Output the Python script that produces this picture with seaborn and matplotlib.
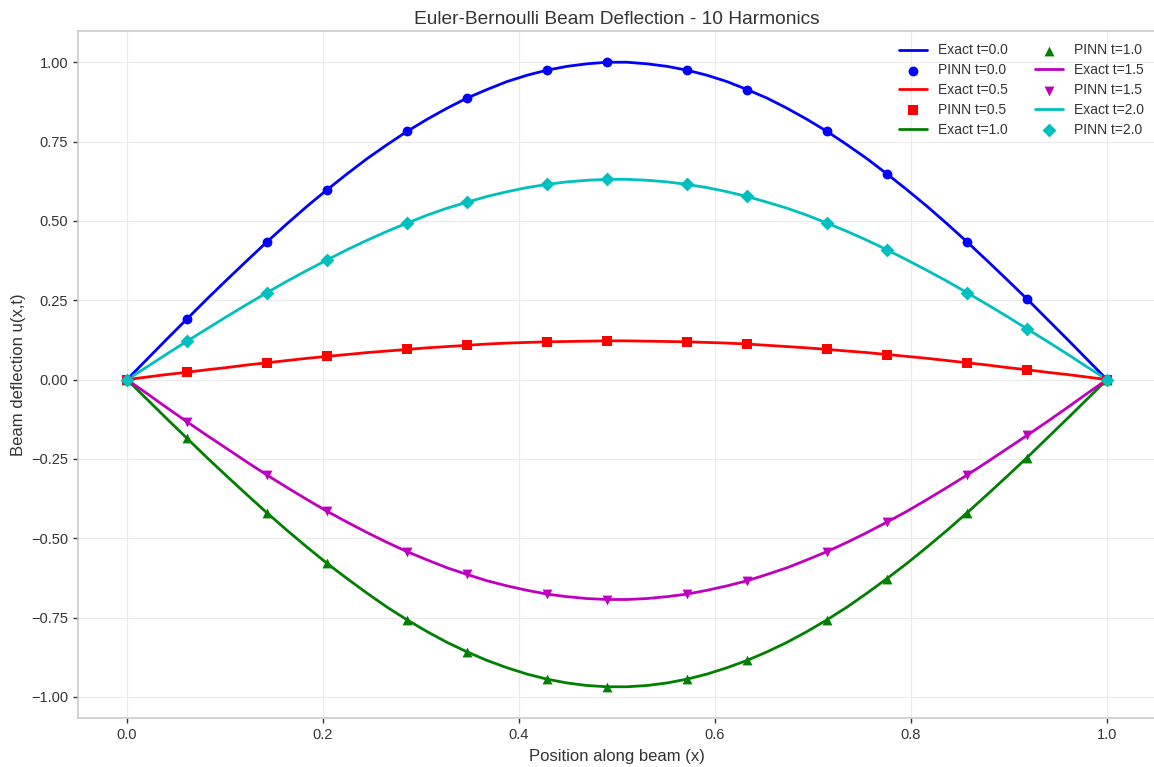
import numpy as np
import pandas as pd
import matplotlib
matplotlib.use("Agg")
import matplotlib.pyplot as plt
import seaborn as sns

# ---- data ----
times = ["0.0", "0.5", "1.0", "1.5", "2.0"]

x_exact = np.linspace(0.0, 1.0, 50)

exact_t00 = [0.000, 0.064, 0.128, 0.191, 0.254, 0.315, 0.375, 0.434, 0.491, 0.546,
             0.598, 0.648, 0.696, 0.740, 0.782, 0.820, 0.855, 0.887, 0.914, 0.939,
             0.959, 0.975, 0.987, 0.995, 1.000, 1.000, 0.995, 0.987, 0.975, 0.959,
             0.939, 0.914, 0.887, 0.855, 0.820, 0.782, 0.740, 0.696, 0.648, 0.598,
             0.546, 0.491, 0.434, 0.375, 0.315, 0.254, 0.191, 0.128, 0.064, 0.000]
exact_t05 = [0.000, 0.008, 0.016, 0.023, 0.031, 0.038, 0.046, 0.053, 0.060, 0.067,
             0.073, 0.079, 0.085, 0.090, 0.095, 0.100, 0.104, 0.108, 0.112, 0.115,
             0.117, 0.119, 0.120, 0.121, 0.122, 0.122, 0.121, 0.120, 0.119, 0.117,
             0.115, 0.112, 0.108, 0.104, 0.100, 0.095, 0.090, 0.085, 0.079, 0.073,
             0.067, 0.060, 0.053, 0.046, 0.038, 0.031, 0.023, 0.016, 0.008, 0.000]
exact_t10 = [0.000, -0.062, -0.124, -0.185, -0.246, -0.305, -0.363, -0.420, -0.475, -0.528,
             -0.579, -0.627, -0.673, -0.717, -0.757, -0.794, -0.828, -0.858, -0.885, -0.908,
             -0.928, -0.944, -0.956, -0.964, -0.968, -0.968, -0.964, -0.956, -0.944, -0.928,
             -0.908, -0.885, -0.858, -0.828, -0.794, -0.757, -0.717, -0.673, -0.627, -0.579,
             -0.528, -0.475, -0.420, -0.363, -0.305, -0.246, -0.185, -0.124, -0.062, 0.000]
exact_t15 = [0.000, -0.044, -0.089, -0.133, -0.176, -0.218, -0.260, -0.301, -0.340, -0.378,
             -0.415, -0.449, -0.482, -0.513, -0.542, -0.568, -0.593, -0.614, -0.634, -0.650,
             -0.664, -0.676, -0.684, -0.690, -0.693, -0.693, -0.690, -0.684, -0.676, -0.664,
             -0.650, -0.634, -0.614, -0.593, -0.568, -0.542, -0.513, -0.482, -0.449, -0.415,
             -0.378, -0.340, -0.301, -0.260, -0.218, -0.176, -0.133, -0.089, -0.044, 0.000]
exact_t20 = [0.000, 0.040, 0.081, 0.121, 0.160, 0.199, 0.237, 0.274, 0.310, 0.344,
             0.377, 0.409, 0.439, 0.467, 0.493, 0.518, 0.540, 0.559, 0.577, 0.592,
             0.605, 0.615, 0.623, 0.628, 0.631, 0.631, 0.628, 0.623, 0.615, 0.605,
             0.592, 0.577, 0.559, 0.540, 0.518, 0.493, 0.467, 0.439, 0.409, 0.377,
             0.344, 0.310, 0.274, 0.237, 0.199, 0.160, 0.121, 0.081, 0.040, 0.000]

x_pinn = [0.0000, 0.0612, 0.1429, 0.2041, 0.2857, 0.3469, 0.4286, 0.4898,
          0.5714, 0.6327, 0.7143, 0.7755, 0.8571, 0.9184, 1.0000]

pinn_t00 = [0.000, 0.191, 0.434, 0.598, 0.782, 0.887, 0.975, 1.000,
            0.975, 0.914, 0.782, 0.648, 0.434, 0.254, 0.000]
pinn_t05 = [0.000, 0.023, 0.053, 0.073, 0.095, 0.108, 0.119, 0.122,
            0.119, 0.112, 0.095, 0.079, 0.053, 0.031, 0.000]
pinn_t10 = [0.000, -0.185, -0.420, -0.579, -0.757, -0.858, -0.944, -0.968,
            -0.944, -0.885, -0.757, -0.627, -0.420, -0.246, 0.000]
pinn_t15 = [0.000, -0.133, -0.301, -0.415, -0.542, -0.614, -0.676, -0.693,
            -0.676, -0.634, -0.542, -0.449, -0.301, -0.176, 0.000]
pinn_t20 = [0.000, 0.121, 0.274, 0.377, 0.493, 0.559, 0.615, 0.631,
            0.615, 0.577, 0.493, 0.409, 0.274, 0.160, 0.000]

exact_series = [exact_t00, exact_t05, exact_t10, exact_t15, exact_t20]
pinn_series = [pinn_t00, pinn_t05, pinn_t10, pinn_t15, pinn_t20]
colors = ["#0000ff", "#ff0000", "#008000", "#bf00bf", "#00bfbf"]
markers = ["o", "s", "^", "v", "D"]

# ---- style ----
sns.set_theme(style="whitegrid")
plt.rcParams["font.family"] = ["Liberation Sans", "DejaVu Sans"]
plt.rcParams.update({
    "axes.edgecolor": "#cccccc",
    "axes.linewidth": 1.2,
    "grid.color": "#ebebeb",
    "grid.linewidth": 0.8,
    "xtick.bottom": True,
    "ytick.left": True,
    "xtick.major.size": 3.5,
    "ytick.major.size": 3.5,
    "xtick.major.width": 1.0,
    "ytick.major.width": 1.0,
    "xtick.color": "#333333",
    "ytick.color": "#333333",
    "xtick.labelsize": 10.5,
    "ytick.labelsize": 10.5,
    "axes.labelcolor": "#333333",
    "text.color": "#333333",
})

fig = plt.figure(figsize=(11.54, 7.67), dpi=100)
ax = fig.add_axes([78 / 1154, 1 - 718 / 767, 1078 / 1154, (718 - 31) / 767])

for t, ex, pn, c, m in zip(times, exact_series, pinn_series, colors, markers):
    df_e = pd.DataFrame({"x": x_exact, "u": ex})
    df_p = pd.DataFrame({"x": x_pinn, "u": pn})
    sns.lineplot(data=df_e, x="x", y="u", color=c, linewidth=2,
                 label=f"Exact t={t}", ax=ax)
    sns.scatterplot(data=df_p, x="x", y="u", color=c, marker=m, s=50,
                    edgecolor=c, linewidth=0, label=f"PINN t={t}", ax=ax, zorder=3)

ax.set_xticks([0.0, 0.2, 0.4, 0.6, 0.8, 1.0])
ax.set_yticks([-1.0, -0.75, -0.5, -0.25, 0.0, 0.25, 0.5, 0.75, 1.0])
ax.set_yticklabels(["\u22121.00", "\u22120.75", "\u22120.50", "\u22120.25", "0.00",
                    "0.25", "0.50", "0.75", "1.00"])
ax.set_xticklabels(["0.0", "0.2", "0.4", "0.6", "0.8", "1.0"])
ax.set_xlim(-0.05, 1.05)
ax.margins(y=0.05)

ax.set_xlabel("Position along beam (x)", fontsize=12, labelpad=5)
ax.set_ylabel("Beam deflection u(x,t)", fontsize=12, labelpad=4)
ax.set_title("Euler-Bernoulli Beam Deflection - 10 Harmonics", fontsize=13.8, pad=5)

leg = ax.legend(loc="upper right", ncol=2, fontsize=10, frameon=False,
                bbox_to_anchor=(1.0, 1.0),
                borderaxespad=0.5, columnspacing=2.0, handlelength=2.0,
                handletextpad=0.75, labelspacing=0.42)

fig.savefig("out.png", dpi=100)
